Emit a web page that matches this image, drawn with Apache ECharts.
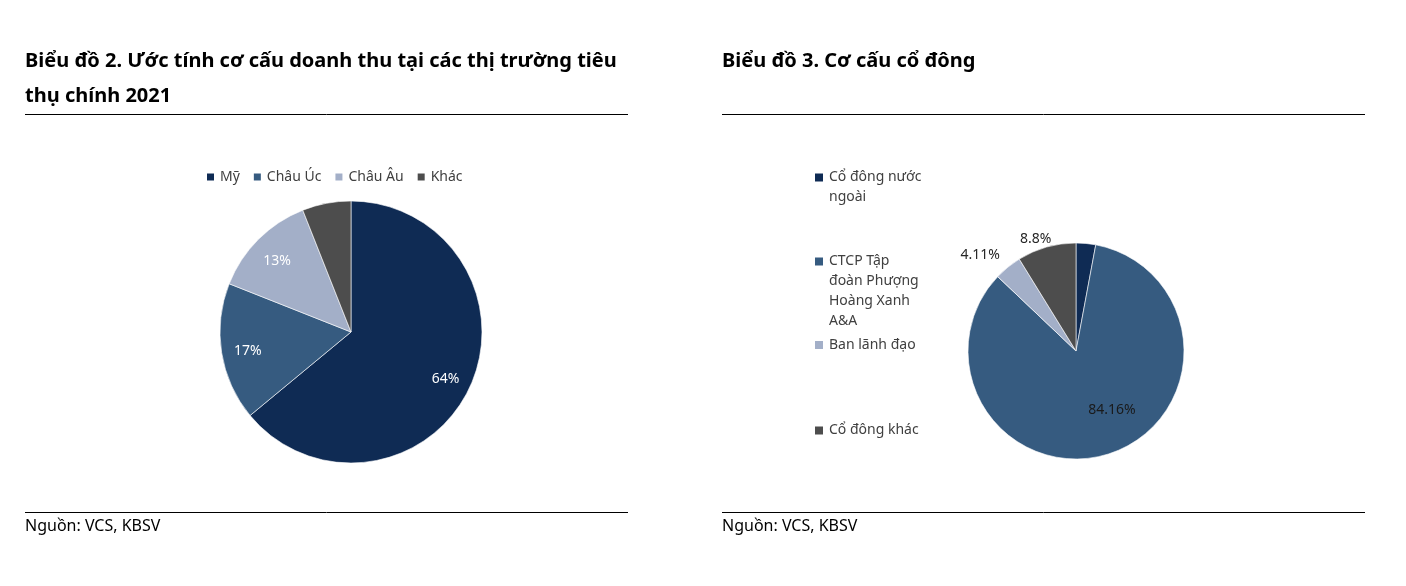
<!DOCTYPE html>
<html>
<head>
<meta charset="utf-8">
<script src="https://cdn.jsdelivr.net/npm/echarts@6/dist/echarts.min.js"></script>
<style>
html,body{margin:0;padding:0;background:#fff;}
#c{width:1406px;height:586px;}
</style>
</head>
<body>
<div id="c"></div>
<script>
// ---- Data ----
const title1 = 'Biểu đồ 2. Ước tính cơ cấu doanh thu tại các thị trường tiêu\nthụ chính 2021';
const title2 = 'Biểu đồ 3. Cơ cấu cổ đông';
const sourceText = 'Nguồn: VCS, KBSV';

const marketCategories = ['Mỹ', 'Châu Úc', 'Châu Âu', 'Khác'];
const marketValues = [64, 17, 13, 6];

const holderCategories = ['Cổ đông nước\nngoài', 'CTCP Tập\nđoàn Phượng\nHoàng Xanh\nA&A', 'Ban lãnh đạo', 'Cổ đông khác'];
const holderValues = [2.93, 84.16, 4.11, 8.8];

const palette = ['#0f2b54', '#365b80', '#a3afc8', '#4d4d4d'];

// ---- Build ----
const FONT = 'Noto Sans';
const chart = echarts.init(document.getElementById('c'), null, {renderer: 'canvas'});

const marketData = marketCategories.map((n, i) => ({name: n, value: marketValues[i], itemStyle: {color: palette[i]}}));
const marketOverlay = marketCategories.map((n, i) => ({name: n, value: marketValues[i], label: {show: i < 3}}));

// per-item label style for shareholder pie (style only)
const holderLabelStyle = [
  {label: {show: false}},
  {label: {show: false}},
  {label: {show: true, position: 'outside', distanceToLabelLine: -2}, labelLine: {show: false, length: 16, length2: 0}},
  {label: {show: true, position: 'outside', distanceToLabelLine: -7}, labelLine: {show: false, length: 8, length2: 0}}
];
const holderData = holderCategories.map((n, i) => Object.assign({name: n, value: holderValues[i], itemStyle: {color: palette[i]}}, holderLabelStyle[i]));
const holderOverlay = holderCategories.map((n, i) => ({name: n, value: holderValues[i], label: {show: i === 1, offset: [15, -6]}}));

// legend icon: square aligned with the first text line
const LH = 20;
const legend2IconCenters = [177.5, 261.5, 345, 430.5];
const holderLegends = holderCategories.map((n, i) => {
  const lines = n.split('\n').length;
  const h = LH * lines - 10;
  return {
    data: [n],
    orient: 'vertical',
    left: 813,
    top: legend2IconCenters[i] - 10,
    padding: 0,
    itemWidth: 10,
    itemHeight: h,
    icon: 'path://M0,0H10V10H0Z M0,' + h + 'L0,' + h,
    selectedMode: false,
    textStyle: {fontFamily: FONT, fontSize: 14, color: '#404040', lineHeight: LH}
  };
});

const option = {
  animation: false,
  textStyle: {fontFamily: FONT},
  title: [
    {text: title1, left: 25, top: 44, padding: 0,
     textStyle: {fontFamily: FONT, fontSize: 20, fontWeight: 'bold', color: '#000', lineHeight: 35}},
    {text: title2, left: 722, top: 44, padding: 0,
     textStyle: {fontFamily: FONT, fontSize: 20, fontWeight: 'bold', color: '#000', lineHeight: 35}},
    {text: sourceText, left: 25, top: 516, padding: 0,
     textStyle: {fontFamily: FONT, fontSize: 16, fontWeight: 'normal', color: '#000', lineHeight: 20}},
    {text: sourceText, left: 722, top: 516, padding: 0,
     textStyle: {fontFamily: FONT, fontSize: 16, fontWeight: 'normal', color: '#000', lineHeight: 20}}
  ],
  graphic: [
    {type: 'line', shape: {x1: 25, y1: 114.5, x2: 628, y2: 114.5}, style: {stroke: '#000', lineWidth: 1}, silent: true},
    {type: 'line', shape: {x1: 722, y1: 114.5, x2: 1365, y2: 114.5}, style: {stroke: '#000', lineWidth: 1}, silent: true},
    {type: 'line', shape: {x1: 25, y1: 512.5, x2: 628, y2: 512.5}, style: {stroke: '#000', lineWidth: 1}, silent: true},
    {type: 'line', shape: {x1: 722, y1: 512.5, x2: 1365, y2: 512.5}, style: {stroke: '#000', lineWidth: 1}, silent: true}
  ],
  legend: [
    {
      data: marketCategories,
      orient: 'horizontal',
      left: 205,
      top: 167,
      padding: 0,
      itemWidth: 9,
      itemHeight: 9,
      itemGap: 12,
      icon: 'rect',
      selectedMode: false,
      textStyle: {fontFamily: FONT, fontSize: 14, color: '#404040', lineHeight: 20}
    }
  ].concat(holderLegends),
  series: [
    {
      type: 'pie',
      center: [351, 332],
      radius: [0, 131],
      startAngle: 90,
      clockwise: true,
      avoidLabelOverlap: false,
      silent: true,
      label: {show: false},
      labelLine: {show: false},
      itemStyle: {borderColor: '#ffffff', borderWidth: 0.6},
      data: marketData
    },
    {
      type: 'pie',
      center: [1076, 351],
      radius: [0, 108],
      startAngle: 90,
      clockwise: true,
      avoidLabelOverlap: false,
      silent: true,
      label: {show: false, fontFamily: FONT, fontSize: 14, color: '#262626', formatter: '{c}%'},
      labelLine: {show: false},
      itemStyle: {borderColor: '#ffffff', borderWidth: 0.6},
      data: holderData
    },
    {
      type: 'pie',
      center: [351, 332],
      radius: [72, 131],
      startAngle: 90,
      clockwise: true,
      avoidLabelOverlap: false,
      silent: true,
      itemStyle: {color: 'rgba(0,0,0,0)', borderWidth: 0},
      label: {position: 'inside', offset: [0, 3], fontFamily: FONT, fontSize: 14, color: '#ffffff', formatter: '{c}%'},
      labelLine: {show: false},
      data: marketOverlay
    },
    {
      type: 'pie',
      center: [1076, 351],
      radius: [22, 108],
      startAngle: 90,
      clockwise: true,
      avoidLabelOverlap: false,
      silent: true,
      itemStyle: {color: 'rgba(0,0,0,0)', borderWidth: 0},
      label: {position: 'inside', fontFamily: FONT, fontSize: 14, color: '#1a1a1a', formatter: '{c}%'},
      labelLine: {show: false},
      data: holderOverlay
    }
  ]
};
chart.setOption(option);
</script>
</body>
</html>
